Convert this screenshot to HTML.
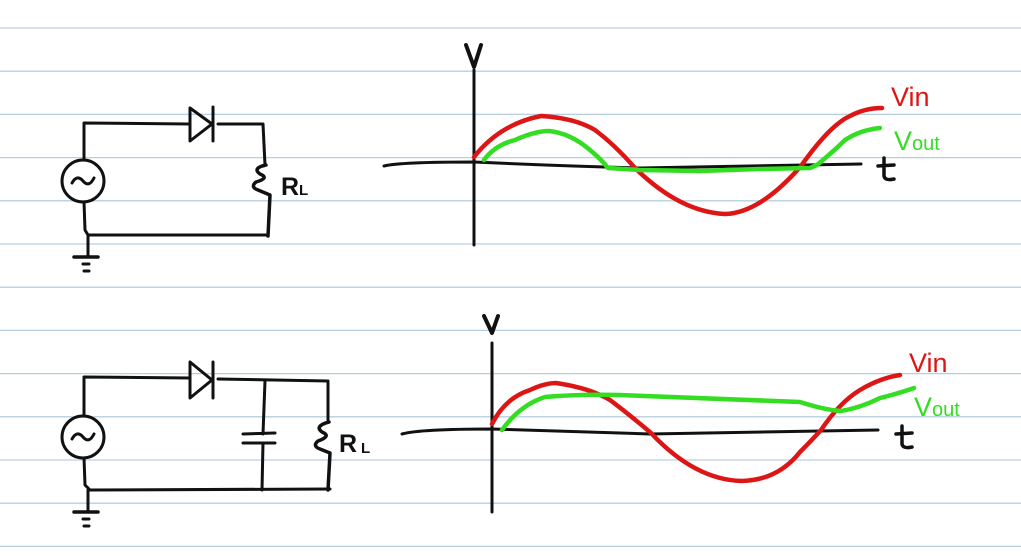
<!DOCTYPE html>
<html><head><meta charset="utf-8"><style>
html,body{margin:0;padding:0;background:#fff;}
svg{display:block;}
text{font-family:"Liberation Sans",sans-serif;}
</style></head><body>
<svg width="1021" height="556" viewBox="0 0 1021 556" xmlns="http://www.w3.org/2000/svg">
<g stroke="#b6cfe0" stroke-width="1.3">
<line x1="0" y1="28" x2="1021" y2="28"/><line x1="0" y1="71.2" x2="1021" y2="71.2"/>
<line x1="0" y1="114.4" x2="1021" y2="114.4"/><line x1="0" y1="157.6" x2="1021" y2="157.6"/>
<line x1="0" y1="200.8" x2="1021" y2="200.8"/><line x1="0" y1="244" x2="1021" y2="244"/>
<line x1="0" y1="287.2" x2="1021" y2="287.2"/><line x1="0" y1="330.4" x2="1021" y2="330.4"/>
<line x1="0" y1="373.6" x2="1021" y2="373.6"/><line x1="0" y1="416.8" x2="1021" y2="416.8"/>
<line x1="0" y1="460" x2="1021" y2="460"/><line x1="0" y1="503.2" x2="1021" y2="503.2"/>
<line x1="0" y1="546.4" x2="1021" y2="546.4"/>
</g>
<g fill="none" stroke="#111" stroke-width="3" stroke-linecap="round" stroke-linejoin="round">
<!-- circuit 1 -->
<path d="M84 160 L84 123 L190 124"/>
<path d="M190 108 L190 141 L212 124 Z"/>
<path d="M213 107 L213 141"/>
<path d="M218 124 L263 124 L265 165"/>
<path d="M266 165 Q252 168 260 174 Q270 178 256 182 Q250 187 258 190 L270 195 L268 236" stroke-width="3.5"/>
<circle cx="83" cy="181" r="21"/>
<path d="M72 183 Q77 174 83 181 Q89 188 94 178"/>
<path d="M84 202 L85 230 L88 235 L268 235"/>
<path d="M88 235 L88 256"/>
<path d="M74 257 L98 257" stroke-width="3.5"/>
<path d="M83 264 L89 264 M84 271 L89 271"/>
<!-- circuit 2 -->
<path d="M84 415 L84 377 L190 378"/>
<path d="M190 362 L190 398 L212 380 Z"/>
<path d="M213 362 L213 398"/>
<path d="M218 379 L328 381 L328 420"/>
<path d="M265 381 L263 434 M243 434 L275 433 M243 443 L275 443 M263 443 L262 490"/>
<path d="M329 422 Q314 426 322 432 Q332 436 318 441 Q312 446 320 449 L330 453 L328 490" stroke-width="3.5"/>
<circle cx="83" cy="437" r="21"/>
<path d="M72 439 Q77 430 83 437 Q89 444 94 434"/>
<path d="M84 458 L85 485 L90 490 L330 489"/>
<path d="M88 490 L88 511"/>
<path d="M74 512 L98 512" stroke-width="3.5"/>
<path d="M83 519 L89 519 M84 526 L89 526"/>
<!-- graph 1 axes -->
<path d="M474 70 L474 245"/>
<path d="M384 166 Q400 162 474 162 Q560 166 640 168 L861 164"/>
<path d="M466 45 L474 67 L481 45" stroke-width="4"/>
<!-- graph 2 axes -->
<path d="M492 343 L492 512"/>
<path d="M402 434 Q420 429 492 429 Q580 432 650 434 L878 430"/>
<path d="M484 316 L492 333 L498 316" stroke-width="4"/>
</g>
<!-- t labels -->
<g fill="none" stroke="#111" stroke-width="3.5" stroke-linecap="round">
<path d="M884 158 L884 176 Q885 181 894 179 M878 166 L894 165"/>
<path d="M902 426 L902 444 Q903 449 912 447 M896 434 L912 433"/>
</g>
<!-- waves -->
<g fill="none" stroke-width="4.5" stroke-linecap="round" stroke-linejoin="round">
<path stroke="#dd1515" d="M474 157 Q500 124 541 116 Q575 118 595 130 Q615 145 635 168 Q680 212 725 214 Q760 213 801 166 Q830 125 850 116 Q865 108 882 108"/>
<path stroke="#33dd22" d="M484 160 Q495 145 515 140 Q535 131 549 131 Q570 133 590 150 Q602 160 608 168 L640 170 L700 171 L760 169 L810 168 L817 165 Q835 150 845 140 Q860 130 880 128"/>
<path stroke="#dd1515" d="M492 424 Q505 398 530 390 Q545 383 556 383 Q590 388 610 400 Q630 415 651 433 Q695 480 742 481 Q778 480 800 452 Q812 440 821 430 Q840 402 860 390 Q880 378 900 375"/>
<path stroke="#33dd22" d="M502 430 Q520 405 545 397 Q580 394 620 395 Q700 398 800 402 Q825 410 841 411 Q860 408 880 398 Q900 393 914 388"/>
</g>
<!-- labels -->
<text x="281" y="195" font-size="25" fill="#111" font-weight="bold">R</text>
<text x="299" y="195" font-size="15" fill="#111" font-weight="bold">L</text>
<text x="339" y="452" font-size="25" fill="#111" font-weight="bold">R</text>
<text x="361" y="453" font-size="15" fill="#111" font-weight="bold">L</text>
<text x="891" y="106" font-size="27" fill="#dd1515">Vin</text>
<text x="894" y="150" font-size="27" fill="#33dd22">V<tspan font-size="20">out</tspan></text>
<text x="909" y="372" font-size="27" fill="#dd1515">Vin</text>
<text x="914" y="416" font-size="27" fill="#33dd22">V<tspan font-size="20">out</tspan></text>
</svg>
</body></html>
